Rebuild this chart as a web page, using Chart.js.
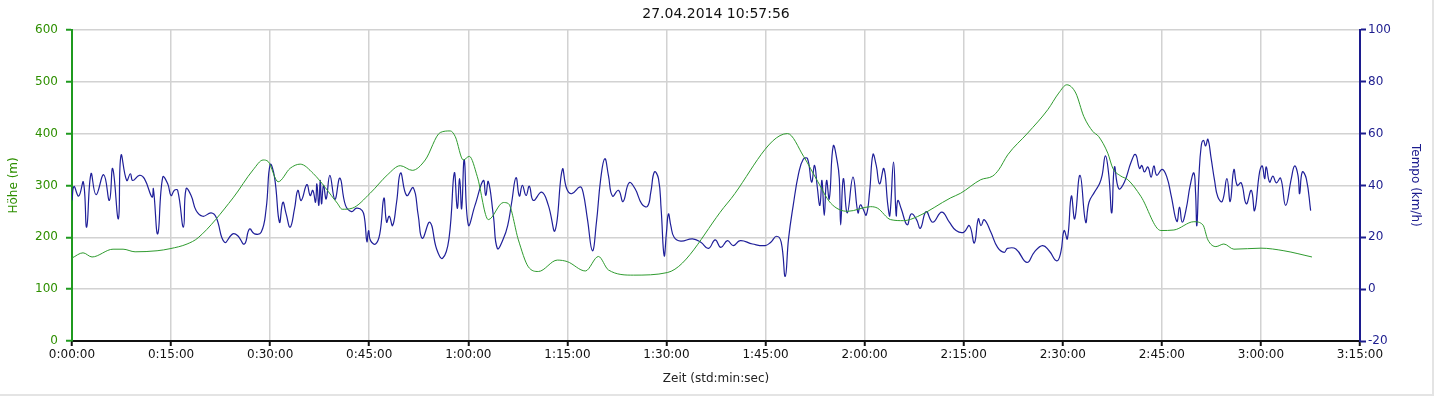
<!DOCTYPE html>
<html>
<head>
<meta charset="utf-8">
<script src="https://cdn.jsdelivr.net/npm/chart.js@4.4.1/dist/chart.umd.min.js"></script>
<style>
  html, body { margin: 0; padding: 0; background: #ffffff; }
  #wrap { width: 1432px; height: 394px; border-right: 2px solid #e4e4e4; border-bottom: 2px solid #e4e4e4; }
  canvas { display: block; }
</style>
</head>
<body>
<div id="wrap"><canvas id="c" width="1432" height="394"></canvas></div>
<script>
// ---- data (time in minutes since start) ----
const chartTitle = '27.04.2014 10:57:56';
const xTickLabels = ['0:00:00','0:15:00','0:30:00','0:45:00','1:00:00','1:15:00','1:30:00',
                     '1:45:00','2:00:00','2:15:00','2:30:00','2:45:00','3:00:00','3:15:00'];

// Höhe (m)
const altTime = [
  0,1.67,3.03,6.21,7.73,9.55,12.88,14.85,17.42,19.09,
  24.39,27.42,28.94,29.7,31.21,33.03,34.55,36.52,40.15,40.91,
  42.42,45.15,47.73,49.7,51.52,53.48,55.76,57.27,58.03,59.24,
  60.15,61.36,63.03,65.3,66.06,67.58,69.09,70.61,73.48,75.0,
  77.73,79.7,81.21,85.0,90.15,99.24,108.33,110.76,112.88,114.85,
  117.42,120.91,121.97,123.94,125.91,128.03,133.03,134.55,137.58,139.39,
  140.3,141.67,144.7,147.73,149.39,150.61,151.97,153.18,154.55,155.45,
  156.82,157.58,158.79,159.85,161.82,164.85,166.82,169.85,171.21,171.97,
  173.18,174.39,175.91,180.0,183.48,187.73
];
const altM = [
  160,170,162,177,177,172,174,178,187,199,
  276,330,349,346,307,333,341,323,266,254,
  256,285,320,338,329,349,402,405,394,349,
  356,317,234,267,265,195,143,134,156,153,
  135,163,137,127,132,266,400,356,308,266,
  250,259,256,234,232,240,276,285,311,318,
  330,359,401,446,478,494,478,433,404,394,
  362,333,318,311,279,213,214,230,224,195,
  182,187,177,179,174,162
];

// Tempo (km/h)
const speedTime = [
  0,0.3,1.01,1.72,2.22,2.88,3.64,4.8,5.66,6.16,
  7.02,7.42,8.28,8.84,9.19,10.2,10.96,12.12,12.32,12.98,
  13.74,14.49,15.0,15.5,16.0,16.87,17.27,18.03,18.79,19.8,
  21.06,21.82,23.08,24.34,25.1,26.1,26.87,27.63,28.64,29.39,
  30.0,30.66,31.41,31.92,32.42,33.03,33.69,34.19,34.7,35.56,
  36.06,36.46,36.87,37.07,37.37,37.58,37.78,38.08,38.48,
  39.04,39.8,40.56,41.41,42.32,43.08,43.94,44.3,44.65,44.9,
  45.2,45.96,46.6,47.22,47.63,48.03,48.54,49.14,49.75,50.66,
  51.67,52.42,53.03,54.19,55.2,56.11,57.07,57.88,58.33,58.69,
  58.99,59.39,60.0,61.01,62.27,62.63,63.03,63.79,64.4,65.3,
  65.96,66.57,67.22,67.73,68.18,68.74,69.24,69.85,71.11,72.12,
  73.13,74.24,74.9,75.66,76.92,
  77.37,78.03,78.79,79.4,80.05,80.66,81.21,81.82,82.73,83.43,
  84.34,85.25,86.26,87.12,87.63,88.18,88.79,89.19,89.65,90.0,
  90.3,90.66,91.16,92.17,93.94,95.2,96.36,97.37,98.23,99.24,
  100.1,101.16,103.03,104.95,105.8,106.67,107.37,107.98,108.48,109.19,
  110.0,110.71,111.36,111.97,112.42,112.83,113.23,113.54,113.89,114.24,
  114.65,115.25,
  115.87,116.17,116.38,116.78,117.38,118.24,118.99,119.35,119.75,120.25,
  120.75,121.26,121.76,122.26,122.92,123.52,123.82,124.38,124.78,125.03,
  125.54,126.44,127.05,127.8,128.45,129.31,130.32,131.68,132.83,133.84,
  135.0,135.86,136.61,137.21,137.62,138.12,139.12,140.13,141.14,141.64,
  142.9,144.56,145.67,146.93,147.93,149.09,149.7,150.2,150.7,151.3,
  151.81,152.61,153.47,153.97,
  154.8,155.56,155.96,156.46,156.97,157.42,157.83,158.48,159.34,160.35,
  161.01,161.62,161.97,162.37,162.88,163.38,163.79,164.24,165.05,165.76,
  166.41,167.27,167.68,168.08,168.69,169.29,169.85,170.1,170.3,170.6,
  170.96,171.31,171.62,171.97,172.47,172.98,173.48,174.14,174.85,175.35,
  175.91,176.41,177.02,177.78,178.54,179.04,179.8,180.2,180.56,180.81,
  181.31,181.82,182.32,182.98,183.74,184.6,185.1,185.61,185.86,186.26,
  186.87,187.53
];
const speedKmh = [
  34.2,39.6,35.9,41.3,23.9,44.5,36.4,44.1,34.2,46.5,
  27.1,51.6,41.9,44.5,41.9,43.9,42.6,35.5,38.7,21.3,
  43.2,40.6,36.1,38.1,38.1,23.9,38.7,36.1,30.3,28.1,
  29.4,27.7,18.1,21.3,20.6,17.4,23.2,21.3,21.9,31.0,
  48.0,43.2,25.8,33.5,29.0,23.9,31.0,38.1,34.2,40.3,
  36.1,38.1,33.5,40.6,32.3,41.9,32.9,40.0,34.8,
  43.9,34.6,42.8,32.3,29.9,31.2,30.3,27.1,18.3,22.6,
  18.7,17.4,21.3,35.1,25.8,28.1,24.5,33.5,44.8,36.1,
  39.1,28.4,19.6,25.8,15.5,11.9,19.4,44.8,31.2,42.6,
  31.0,49.9,24.8,32.3,41.9,36.1,41.5,28.4,15.7,19.4,
  24.5,33.5,43.0,35.9,40.0,36.1,39.7,34.2,37.4,32.3,
  22.6,46.2,38.7,36.8,39.4,
  37.4,27.1,14.8,25.8,42.6,50.3,43.9,35.9,38.1,33.8,
  41.0,38.7,32.9,31.9,37.4,45.2,42.6,31.0,12.9,21.9,
  29.0,24.5,20.0,18.5,19.4,18.1,15.7,19.0,16.1,18.7,
  16.8,18.7,17.4,16.8,18.1,20.4,18.1,4.9,19.4,32.3,
  44.5,50.1,50.3,41.3,47.7,39.4,32.3,41.9,28.4,41.9,
  34.8,55.2,
  49.0,42.6,24.8,42.6,29.4,43.2,29.4,32.5,31.0,28.6,
  37.4,51.9,47.7,40.6,46.5,32.3,28.4,49.0,28.4,34.2,
  31.0,24.8,29.0,27.1,23.5,29.9,25.8,29.7,25.8,22.6,
  21.9,24.5,17.8,27.1,24.5,26.8,21.9,16.1,14.2,15.7,
  15.5,10.3,14.2,16.8,14.8,10.9,14.2,22.6,19.4,35.9,
  27.1,43.9,25.8,33.5,
  37.4,40.6,43.9,51.4,43.9,29.4,47.1,38.7,41.3,49.0,
  51.9,46.5,47.7,45.2,47.1,43.2,47.5,43.9,46.2,43.2,
  36.1,26.1,31.6,25.8,31.0,40.0,44.8,37.4,24.5,42.6,
  55.2,57.4,55.2,57.8,50.3,41.9,35.5,33.8,42.6,33.8,
  46.1,40.0,41.0,32.9,38.1,30.3,45.2,47.5,42.6,47.1,
  41.3,43.6,41.0,42.8,32.3,42.6,47.5,43.9,36.8,45.2,
  42.6,30.3
];

// ---- styling ----
const FONT = "'DejaVu Sans', Verdana, sans-serif";
const GREEN_AX = '#1f9a1f';
const GREEN_TXT = '#2e8f00';
const GREEN_LINE = '#2f9b2f';
const NAVY = '#1c1c8e';
const NAVY_LINE = '#1f1f99';
const GRID = '#d2d2d2';

new Chart(document.getElementById('c'), {
  type: 'line',
  data: {
    datasets: [
      {
        label: 'Höhe',
        data: altTime.map((t, i) => ({ x: t, y: altM[i] })),
        yAxisID: 'yH',
        borderColor: GREEN_LINE,
        borderWidth: 1,
        pointRadius: 0,
        cubicInterpolationMode: 'monotone',
        fill: false
      },
      {
        label: 'Tempo',
        data: speedTime.map((t, i) => ({ x: t, y: speedKmh[i] })),
        yAxisID: 'yT',
        borderColor: NAVY_LINE,
        borderWidth: 1.2,
        pointRadius: 0,
        tension: 0.45,
        fill: false
      }
    ]
  },
  options: {
    responsive: false,
    animation: false,
    layout: { padding: 0 },
    plugins: {
      legend: { display: false },
      tooltip: { enabled: false },
      title: {
        display: true,
        text: chartTitle,
        color: '#111',
        font: { family: FONT, size: 14, weight: 'normal' },
        padding: { top: 6, bottom: 7 }
      }
    },
    scales: {
      x: {
        type: 'linear',
        min: 0,
        max: 195,
        ticks: {
          stepSize: 15,
          autoSkip: false,
          maxRotation: 0,
          color: '#111',
          padding: 2,
          font: { family: FONT, size: 12 },
          callback: (v) => xTickLabels[Math.round(v / 15)]
        },
        grid: { color: GRID, lineWidth: 1.5, tickColor: '#111', tickLength: 5, tickWidth: 2 },
        border: { color: '#111', width: 2 },
        title: {
          display: true,
          text: 'Zeit (std:min:sec)',
          color: '#222',
          font: { family: FONT, size: 12 },
          padding: { top: 0, bottom: 8 }
        },
        afterFit: (s) => { s.height = 53; }
      },
      yH: {
        position: 'left',
        min: 0,
        max: 600,
        ticks: {
          stepSize: 100,
          color: GREEN_TXT,
          padding: 8,
          font: { family: FONT, size: 12 }
        },
        grid: { color: GRID, lineWidth: 1.5, tickColor: GREEN_AX, tickLength: 6, tickWidth: 2 },
        border: { color: GREEN_AX, width: 2 },
        title: {
          display: true,
          text: 'Höhe (m)',
          color: GREEN_TXT,
          font: { family: FONT, size: 12 },
          padding: { top: 7, bottom: 0 }
        },
        afterFit: (s) => { s.width = 72; }
      },
      yT: {
        position: 'right',
        min: -20,
        max: 100,
        ticks: {
          stepSize: 20,
          color: NAVY,
          padding: 2,
          font: { family: FONT, size: 12 }
        },
        grid: { drawOnChartArea: false, tickColor: NAVY, tickLength: 6, tickWidth: 2 },
        border: { color: NAVY, width: 2 },
        title: {
          display: true,
          text: 'Tempo (km/h)',
          color: NAVY,
          font: { family: FONT, size: 12 },
          padding: { top: 10, bottom: 0 }
        },
        afterFit: (s) => { s.width = 72; }
      }
    }
  }
});
</script>
</body>
</html>
